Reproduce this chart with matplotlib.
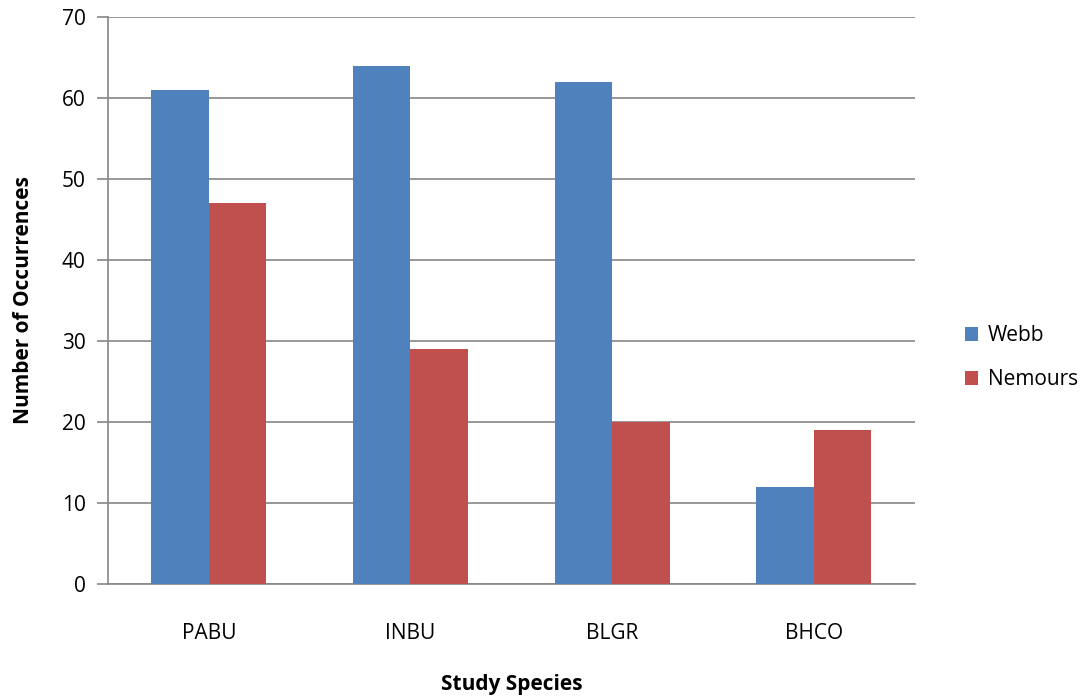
import matplotlib
matplotlib.use("Agg")
import matplotlib.pyplot as plt
import numpy as np

categories = ["PABU", "INBU", "BLGR", "BHCO"]
webb = [61, 64, 62, 12]
nemours = [47, 29, 20, 19]
series_names = ["Webb", "Nemours"]
yticks = [0, 10, 20, 30, 40, 50, 60, 70]

plt.rcParams['font.family'] = ['Open Sans', 'DejaVu Sans']

fig = plt.figure(figsize=(10.85, 6.96), dpi=100)
ax = fig.add_axes([0.0995, 0.161, 0.7435, 0.8146])

x = np.arange(len(categories))
w = 1 / 3.5
b1 = ax.bar(x - w / 2, webb, w, color="#4F81BD", label=series_names[0], zorder=3)
b2 = ax.bar(x + w / 2, nemours, w, color="#C0504D", label=series_names[1], zorder=3)

ax.set_xlim(-0.5, len(categories) - 0.5)
ax.set_ylim(0, 70)
ax.set_yticks(yticks)
ax.set_xticks(x)
ax.set_xticklabels(categories, fontsize=15)
ax.tick_params(axis='x', length=0, pad=28)
ax.tick_params(axis='y', length=8, width=1.2, color="#868686", labelsize=15, pad=8)
ax.yaxis.grid(True, color="#868686", linewidth=1.2, zorder=0)
for s in ["top", "right"]:
    ax.spines[s].set_visible(False)
for s in ["left", "bottom"]:
    ax.spines[s].set_color("#868686")
    ax.spines[s].set_linewidth(1.2)

ax.set_xlabel("Study Species", fontsize=15, fontweight="bold", labelpad=22)
ax.set_ylabel("Number of Occurrences", fontsize=15, fontweight="bold", labelpad=20)

leg = fig.legend(handles=[b1, b2], loc="center left", bbox_to_anchor=(0.872, 0.486),
                 frameon=False, fontsize=15, handlelength=0.65, handleheight=0.65,
                 labelspacing=1.1, handletextpad=0.45)

fig.savefig("out.png", dpi=100)
